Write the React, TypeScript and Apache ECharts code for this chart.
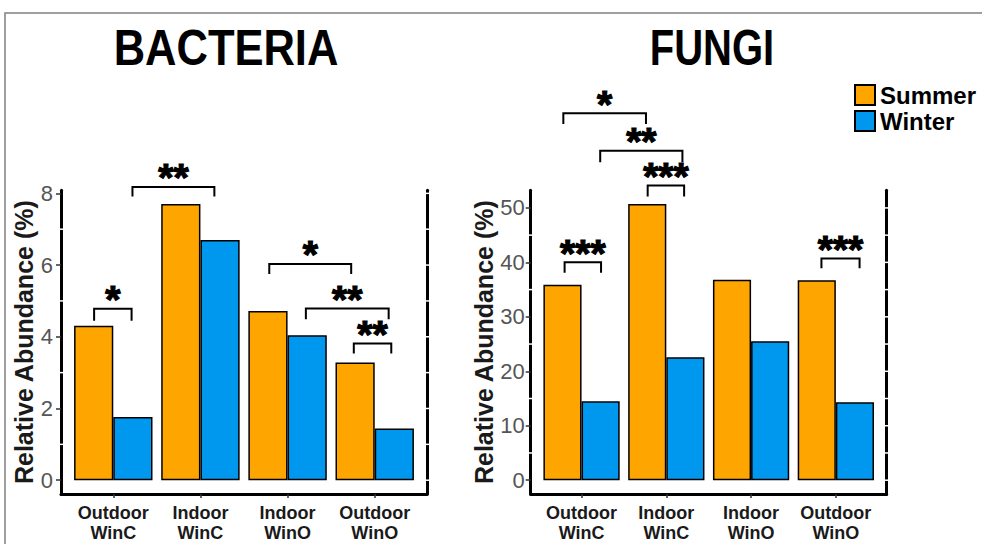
import React, { useEffect, useRef } from "react";
import * as echarts from "echarts";

const categories = ["Outdoor\nWinC", "Indoor\nWinC", "Indoor\nWinO", "Outdoor\nWinO"];
const seasonNames = ["Summer", "Winter"];
const panelTitles = ["BACTERIA", "FUNGI"];
const bacteriaSummer = [4.31, 7.7, 4.72, 3.28];
const bacteriaWinter = [1.76, 6.7, 4.04, 1.44];
const fungiSummer = [35.9, 50.7, 36.8, 36.7];
const fungiWinter = [14.5, 22.6, 25.5, 14.3];
const bacteriaTicks = [0, 2, 4, 6, 8];
const fungiTicks = [0, 10, 20, 30, 40, 50];
// white grid breaks over the axis lines: [value, isMajor]
const bacteriaBreaks = [[0, 1], [1, 0], [2, 1], [3, 0], [4, 1], [5, 0], [6, 1], [7, 0], [8, 1]];
const fungiBreaks = [[0, 1], [5, 0], [10, 1], [15, 0], [20, 1], [25, 0], [30, 1], [35, 0], [40, 1], [45, 0], [50, 1]];
// significance brackets: [xStart, xEnd, yTop, yLegEnd, stars]
const bacteriaBrackets = [
  [0.78, 1.21, 4.78, 4.45, 1],
  [1.22, 2.16, 8.18, 7.91, 2],
  [2.79, 3.73, 6.03, 5.75, 1],
  [3.21, 4.16, 4.79, 4.49, 2],
  [3.76, 4.19, 3.81, 3.53, 2],
];
const fungiBrackets = [
  [0.785, 1.76, 67.4, 65.4, 1],
  [1.22, 2.19, 60.5, 58.4, 2],
  [1.78, 2.21, 54.1, 52.1, 3],
  [0.8, 1.23, 40.0, 38.1, 3],
  [3.83, 4.28, 40.7, 38.9, 3],
];

const FONT = "'Liberation Sans', Arial, Helvetica, sans-serif";
const SUMMER_COLOR = "#FFA500";
const WINTER_COLOR = "#0098EE";
const X_MIN = 0.4;
const X_MAX = 4.6;

function expandRange(values: number[]) {
  const mx = Math.max(...values);
  return { min: -mx * 0.05, max: mx * 1.05 };
}

export default function App() {
  const ref = useRef<HTMLDivElement>(null);

  useEffect(() => {
    if (!ref.current) return;
    const chart = echarts.init(ref.current, null, { renderer: "svg" });

    const bRange = expandRange([...bacteriaSummer, ...bacteriaWinter]);
    const fRange = expandRange([...fungiSummer, ...fungiWinter]);
    const xPositions = categories.map((_, i) => i + 1);

    const grids = [
      { left: 61, top: 190.3, width: 366, height: 303.7 },
      { left: 530.7, top: 190.3, width: 356, height: 303.7 },
    ];

    const makeX = (gi: number) => ({
      type: "value",
      gridIndex: gi,
      min: X_MIN,
      max: X_MAX,
      axisLine: { show: true, onZero: false, lineStyle: { color: "#000", width: 3 } },
      axisTick: { show: true, customValues: xPositions, length: 4, lineStyle: { color: "#333", width: 1.5 } },
      axisLabel: {
        customValues: xPositions,
        formatter: (v: number) => categories[Math.round(v) - 1] ?? "",
        fontSize: 18,
        fontWeight: "bold",
        lineHeight: 20,
        color: "#1a1a1a",
        margin: 9,
        fontFamily: FONT,
      },
      splitLine: { show: false },
    });

    const makeY = (gi: number, range: { min: number; max: number }, ticks: number[], nameGap: number, labelMargin: number) => ({
      type: "value",
      gridIndex: gi,
      min: range.min,
      max: range.max,
      name: "Relative Abundance (%)",
      nameLocation: "middle",
      nameGap,
      nameRotate: 90,
      nameTextStyle: { fontSize: 25, fontWeight: "bold", color: "#1a1a1a", fontFamily: FONT },
      axisLine: { show: true, onZero: false, lineStyle: { color: "#000", width: 3 } },
      axisTick: { show: true, customValues: ticks, length: 5, lineStyle: { color: "#333", width: 1.5 } },
      axisLabel: { customValues: ticks, fontSize: 22, color: "#555", margin: labelMargin, fontFamily: FONT },
      splitLine: { show: false },
    });

    const makeRightY = (gi: number, range: { min: number; max: number }) => ({
      type: "value",
      gridIndex: gi,
      position: "right",
      min: range.min,
      max: range.max,
      axisLine: { show: true, onZero: false, lineStyle: { color: "#000", width: 3 } },
      axisTick: { show: false },
      axisLabel: { show: false },
      splitLine: { show: false },
    });

    const barSeries = (name: string, gi: number, vals: number[], color: string) => ({
      type: "bar",
      name,
      xAxisIndex: gi,
      yAxisIndex: gi * 2,
      data: vals.map((v, i) => [xPositions[i], v]),
      barWidth: "45%",
      barGap: "0%",
      itemStyle: { color, borderColor: "#000", borderWidth: 1.5 },
      emphasis: { disabled: true },
    });

    const breakSeries = (gi: number, data: number[][]) => ({
      type: "custom",
      xAxisIndex: gi,
      yAxisIndex: gi * 2,
      silent: true,
      z: 3,
      data: data.map((d) => [X_MIN, d[0], d[1]]),
      renderItem: (params: any, api: any) => {
        const v = api.value(1);
        const major = api.value(2);
        const pL = api.coord([X_MIN, v]);
        const pR = api.coord([X_MAX, v]);
        const children: any[] = [
          { type: "line", shape: { x1: pR[0] - 3, y1: pR[1], x2: pR[0] + 3, y2: pR[1] }, style: { stroke: "#fff", lineWidth: 1.5 } },
        ];
        if (!major) {
          children.push({ type: "line", shape: { x1: pL[0] - 3, y1: pL[1], x2: pL[0] + 3, y2: pL[1] }, style: { stroke: "#fff", lineWidth: 1.5 } });
        }
        return { type: "group", children };
      },
    });

    const bracketSeries = (gi: number, data: number[][]) => ({
      type: "custom",
      xAxisIndex: gi,
      yAxisIndex: gi * 2,
      silent: true,
      clip: false,
      z: 4,
      data,
      renderItem: (params: any, api: any) => {
        const x1 = api.value(0);
        const x2 = api.value(1);
        const yt = api.value(2);
        const yl = api.value(3);
        const n = api.value(4);
        const a = api.coord([x1, yl]);
        const b = api.coord([x1, yt]);
        const c = api.coord([x2, yt]);
        const d = api.coord([x2, yl]);
        return {
          type: "group",
          children: [
            { type: "polyline", shape: { points: [a, b, c, d] }, style: { stroke: "#000", lineWidth: 2, fill: "none" } },
            {
              type: "text",
              x: (b[0] + c[0]) / 2,
              y: b[1] - 9,
              style: {
                text: "*".repeat(n),
                fontSize: 39,
                fontWeight: "bold",
                fontFamily: FONT,
                fill: "#000",
                stroke: "#000",
                lineWidth: 1.2,
                align: "center",
                verticalAlign: "middle",
              },
            },
          ],
        };
      },
    });

    chart.setOption({
      animation: false,
      backgroundColor: "#fff",
      textStyle: { fontFamily: FONT },
      grid: grids,
      xAxis: [makeX(0), makeX(1)],
      yAxis: [
        makeY(0, bRange, bacteriaTicks, 25, 8),
        makeRightY(0, bRange),
        makeY(1, fRange, fungiTicks, 32, 6),
        makeRightY(1, fRange),
      ],
      legend: {
        data: seasonNames,
        orient: "vertical",
        left: 854,
        top: 83,
        padding: 0,
        itemWidth: 20,
        itemHeight: 20,
        itemGap: 2,
        icon: "rect",
        selectedMode: false,
        itemStyle: { borderColor: "#000", borderWidth: 2 },
        textStyle: { fontSize: 24, fontWeight: "bold", color: "#000", fontFamily: FONT },
      },
      graphic: [
        { type: "rect", silent: true, shape: { x: 5, y: 13, width: 1000, height: 600 }, style: { fill: "none", stroke: "#808080", lineWidth: 1.5 } },
        {
          type: "text", x: 226, y: 48, scaleX: 0.87,
          style: { text: panelTitles[0], fontSize: 50, fontWeight: "bold", fontFamily: FONT, fill: "#000", align: "center", verticalAlign: "middle" },
        },
        {
          type: "text", x: 712, y: 48, scaleX: 0.8,
          style: { text: panelTitles[1], fontSize: 50, fontWeight: "bold", fontFamily: FONT, fill: "#000", align: "center", verticalAlign: "middle" },
        },
      ],
      series: [
        barSeries(seasonNames[0], 0, bacteriaSummer, SUMMER_COLOR),
        barSeries(seasonNames[1], 0, bacteriaWinter, WINTER_COLOR),
        barSeries(seasonNames[0], 1, fungiSummer, SUMMER_COLOR),
        barSeries(seasonNames[1], 1, fungiWinter, WINTER_COLOR),
        breakSeries(0, bacteriaBreaks),
        breakSeries(1, fungiBreaks),
        bracketSeries(0, bacteriaBrackets),
        bracketSeries(1, fungiBrackets),
      ],
    });

    return () => chart.dispose();
  }, []);

  return (
    <div
      ref={ref}
      style={{ position: "fixed", left: 0, top: 0, width: 982, height: 544, background: "#fff" }}
    />
  );
}
